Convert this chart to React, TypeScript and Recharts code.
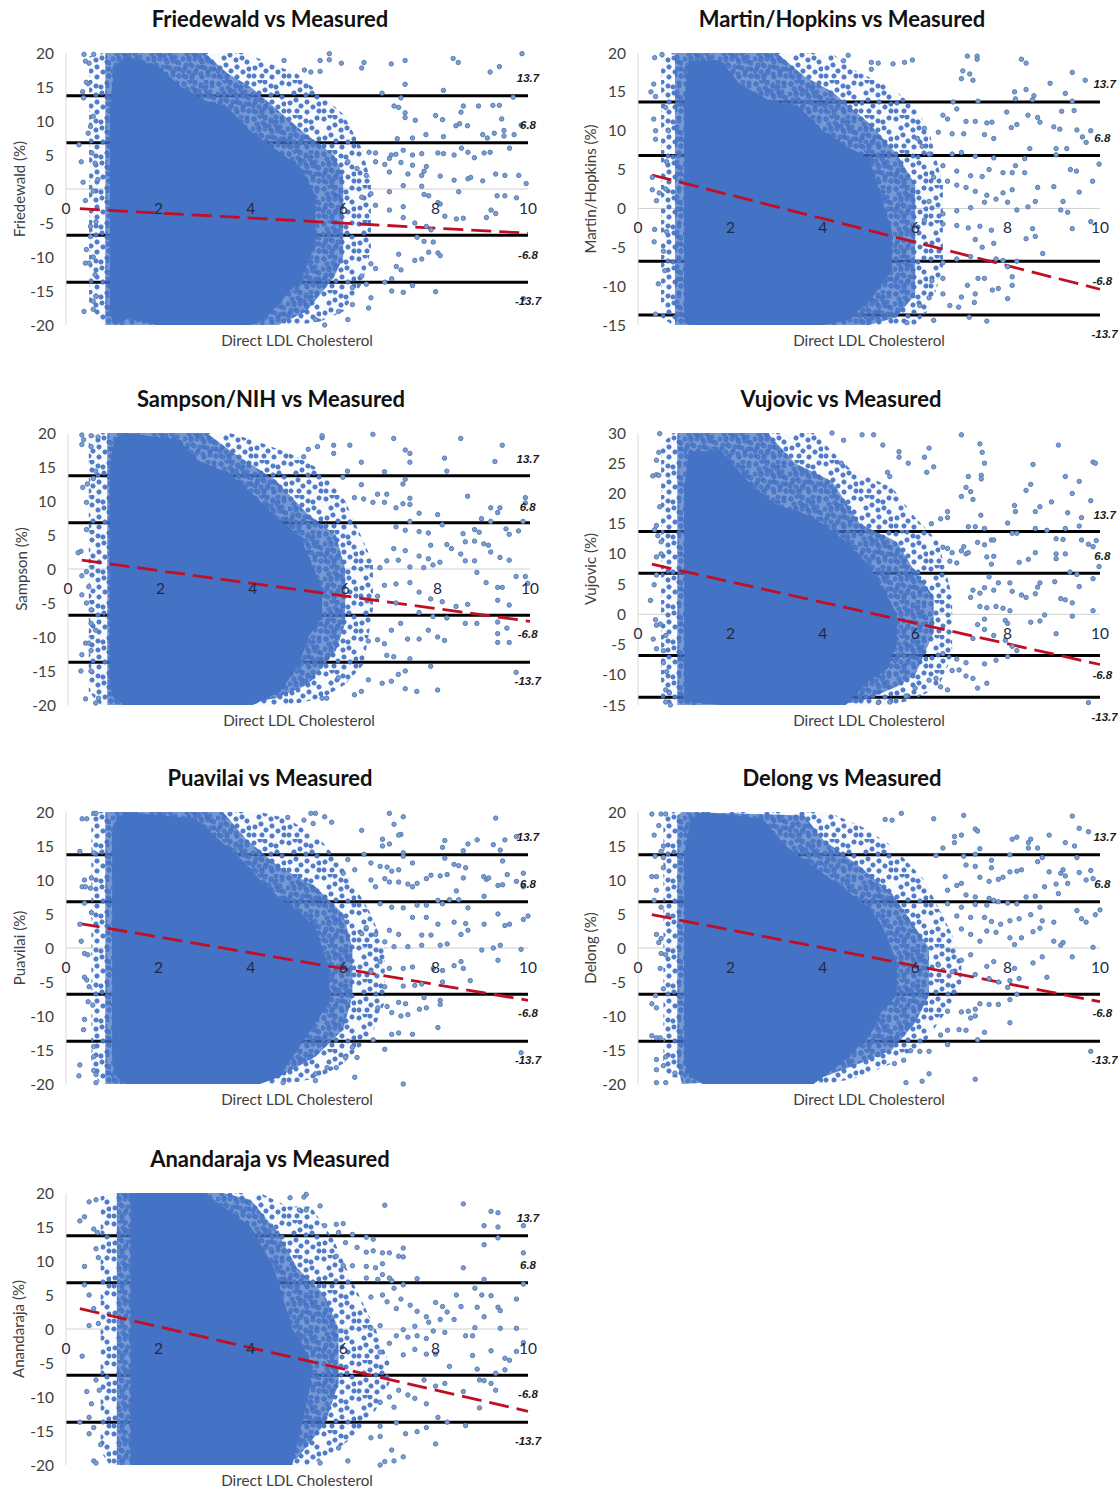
import React from "react";
import { ComposedChart, XAxis, YAxis, Area, Line, Scatter, ReferenceDot } from "recharts";

const xTicks = [0, 2, 4, 6, 8, 10];
const wideTicks = [-20, -15, -10, -5, 0, 5, 10, 15, 20];
const martinTicks = [-15, -10, -5, 0, 5, 10, 15, 20];
const vujovicTicks = [-15, -10, -5, 0, 5, 10, 15, 20, 25, 30];
const limits = [13.7, 6.8, -6.8, -13.7];

const friedewaldTrend = [[0.3, -2.9], [10, -6.5]];
const martinTrend = [[0.3, 4.3], [10, -10.4]];
const sampsonTrend = [[0.3, 1.3], [10, -7.7]];
const vujovicTrend = [[0.3, 8.3], [10, -8.3]];
const puavilaiTrend = [[0.3, 3.6], [10, -7.7]];
const delongTrend = [[0.3, 4.9], [10, -7.9]];
const anandarajaTrend = [[0.3, 3.0], [10, -12.1]];

// density envelopes: [x, low, high]
const friedewaldCore = [[0.95, -18, 12], [1.05, -20, 18], [1.3, -19, 19.5], [2, -20, 18], [2.5, -20, 15], [3, -20, 13], [3.5, -20, 12], [4, -20, 8.5], [4.3, -19, 7], [4.6, -17, 5.5], [5.1, -13, 3], [5.4, -8, -1]];
const friedewaldDense = [[0.85, -20, 20], [3, -20, 20], [3.5, -20, 17], [4, -20, 15], [4.6, -20, 11.5], [5.2, -18, 8], [5.8, -13, 5], [6, -10, 2]];
const friedewaldLoose = [[0.5, -17, 19.5], [0.8, -20, 20], [3.9, -20, 20], [4.4, -20, 18.5], [5, -20, 17], [5.5, -19.5, 14], [6, -18, 11], [6.4, -14, 6], [6.6, -9, 1]];
const martinCore = [[1, -14, 14], [1.1, -15, 19], [1.8, -15, 19], [2.2, -15, 16], [2.8, -15, 14], [3.5, -15, 13], [4, -15, 10], [4.5, -14.5, 8], [5, -12, 6.5], [5.5, -8, -3]];
const martinDense = [[0.8, -15, 20], [3, -15, 20], [3.6, -15, 17], [4.2, -15, 15], [5, -15, 11], [5.6, -14, 7], [6, -11, 3]];
const martinLoose = [[0.5, -14, 19.5], [0.75, -15, 20], [4.2, -15, 20], [4.6, -15, 18], [5.5, -15, 15.5], [6, -15, 13], [6.3, -13, 10], [6.6, -8, 3]];
const sampsonCore = [[0.9, -17, 15], [1, -19, 19], [1.2, -20, 20], [2.4, -20, 19], [2.8, -20, 16], [3.5, -20, 14], [4, -20, 11], [4.6, -18, 7], [5, -14, 5], [5.2, -10, 2], [5.5, -7, -3]];
const sampsonDense = [[0.85, -20, 20], [3, -20, 20], [3.6, -20, 17], [4.5, -19, 13], [5.2, -17, 8], [5.8, -12, 5], [6, -8, 0]];
const sampsonLoose = [[0.45, -18, 19.5], [0.7, -20, 20], [3.5, -20, 20], [4.2, -20, 18.5], [4.8, -20, 17], [5.5, -19, 14.5], [6, -17, 10], [6.4, -14, 4], [6.6, -6, 1]];
const vujovicCore = [[1, -13, 21], [1.1, -14.5, 27], [1.8, -15, 27], [2.5, -15, 21], [3, -15, 18], [3.5, -15, 17], [4, -15, 15], [4.5, -15, 12], [5, -11, 8], [5.4, -9, 3], [5.6, -5, 0]];
const vujovicDense = [[0.85, -15, 30], [2.8, -15, 30], [3.4, -15, 25], [4.2, -15, 22], [4.8, -14.5, 15], [5.6, -12, 12], [6, -10, 7], [6.4, -3, 3]];
const vujovicLoose = [[0.5, -14, 28], [0.75, -15, 30], [3.8, -15, 30], [4.6, -15, 24], [5.5, -15, 21], [6, -14, 16], [6.5, -12, 12], [6.8, -7, 3]];
const puavilaiCore = [[1, -17, 17], [1.1, -19, 19], [1.3, -20, 20], [2.8, -20, 19], [3.3, -20, 16], [3.8, -20, 13], [4.2, -20, 10], [4.6, -19, 7.5], [5.1, -14, 5], [5.4, -11, 3], [5.7, -8, -3]];
const puavilaiDense = [[0.85, -20, 20], [3.4, -20, 20], [3.9, -20, 16], [4.6, -19, 12], [5.4, -16, 9], [6, -12, 5], [6.2, -7, 0]];
const puavilaiLoose = [[0.55, -18, 20], [0.75, -20, 20], [4.2, -20, 20], [4.8, -20, 19], [5.5, -19, 16], [6, -17, 12], [6.6, -13, 5], [6.9, -8, 0]];
const delongCore = [[1, -17, 14], [1.15, -19, 19], [1.4, -20, 20], [2.7, -20, 19], [3.2, -20, 15], [3.8, -20, 12], [4.4, -17, 9], [5, -13, 6], [5.3, -9, 3], [5.6, -7, -2]];
const delongDense = [[0.85, -17, 19.5], [0.95, -20, 20], [3.6, -19, 19.5], [4, -19, 16], [4.8, -17, 12], [5.5, -15, 8], [6, -11, 3], [6.3, -7, 0]];
const delongLoose = [[0.55, -18, 19], [0.75, -19, 20], [4.1, -20, 20], [4.8, -19, 18], [5.5, -17, 15], [6.2, -14, 10], [6.8, -8, 2], [7, -6, -2]];
const anandarajaCore = [[1.4, -20, 20], [3, -20, 20], [3.4, -20, 18], [4, -20, 15], [4.5, -20, 9], [4.9, -20, 0], [5.1, -14, -2], [5.3, -8, -5]];
const anandarajaDense = [[1.1, -20, 20], [3.4, -20, 20], [4, -20, 19], [4.6, -20, 14], [5, -19, 9], [5.6, -14, 5], [5.9, -8, 0]];
const anandarajaLoose = [[0.75, -18, 19.5], [0.95, -20, 20], [4.2, -20, 20], [4.8, -20, 18], [5.3, -20, 18], [5.8, -18, 13], [6.2, -16, 7], [6.7, -12, 0], [7, -8, -5]];

// individually readable points
const friedewaldPoints = [[.39,19.8],[.42,18.8],[.5,18.5],[.6,19.8],[.36,14.3],[.38,13.4],[.28,6.5],[.33,4],[.37,1],[.42,-1.7],[.39,-18],[.59,-17.7],[.44,-8.9],[.42,-10.9],[.5,-10.9],[.48,15.5],[.44,15.7],[.48,8.2],[.53,9.2],[.59,10.7],[.56,5.3],[.63,3.8],[.69,1.4],[.59,-.3],[.53,-5.5],[.65,-4.8],[.53,-7],[.59,-10],[.63,-12.6],[.59,-16.5],[.65,-15.8],
[5.96,18.5],[6.4,17.8],[6.45,18.6],[7.04,18.4],[7.34,18.9],[7.34,15.4],[8.17,14.5],[6.84,14.1],[7.25,13.4],[8.38,19.2],[8.49,18.6],[9.18,17.2],[9.38,18],[9.87,19.9],[9.68,13.5],[5.7,19.9],[5.7,19],[5.5,18.9],[5.5,17.3],[5.3,17.2],[5.16,17.5],[4.72,18.9],[7.1,12.2],[7.2,12],[7.34,11.2],[7.34,10.5],[7.56,10.1],[8.6,12.2],[8.55,11.3],[8.93,12.2],[9.24,12.3],[9.38,12.3],[9.43,10.3],[8,10.8],[8.15,10.2],[8.44,9.3],[8.52,9.6],[8.69,9.3],[9.48,8.6],[9.7,8],[9.48,7.8],[9.27,8.2],[9.02,8],[9.12,7.5],[7.79,8],[7.5,7.5],[7.17,7.4],[8.17,7.7],[9.85,9.4],[9.6,6],[8.4,5],[8.56,6],[8.7,5.4],[8.84,4.6],[9.05,5.3],[9.18,5.4],[8.05,5.3],[8.17,5.2],[7.7,5.2],[7.5,5],[7.3,5.7],[7.14,5.1],[7.04,5],[6.7,5.3],[6.56,5.4],[6.7,4],[6.9,3.6],[7,4.5],[7.25,3.9],[7.5,3.5],[7.8,3.3],[7.75,2.6],[7.7,2],[7.4,2.2],[7,2.5],[6.5,2],[6.3,3],[6.1,4],[8.1,1.9],[8.4,1.3],[8.7,1.5],[8.76,1.7],[9.02,1.2],[9.3,2.2],[9.5,2],[9.8,2],[9.96,.8],[9.5,-1],[9.75,-1.3],[9.33,-1],[9.3,-3.6],[9.1,-4.2],[9.2,-3.1],[8.5,-.4],[8.6,-4.3],[8.45,-4.4],[8.2,-4],[8.05,-2],[8.1,-2.2],[7.85,-1],[7.75,-.8],[7.7,.4],[7.3,.5],[7,-.4],[6.6,-.7],[6.4,-1.2],[6.7,-2.4],[7,-3.1],[7.3,-2.6],[7.3,-4.2],[7.55,-5],[7.8,-5.5],[7.9,-6],[7.6,-7.1],[7.75,-7.7],[7.95,-7.8],[8.05,-9.4],[8.1,-9.8],[7.85,-9.3],[7.7,-10.3],[7.55,-10.5],[7.2,-9.6],[7.15,-11.4],[7.25,-11.9],[7.05,-13.2],[6.9,-13.7],[7.05,-15],[7.3,-15.2],[7.5,-14.2],[8,-15.1],[6.7,-11.7],[6.6,-11],[6.4,-12.8],[6.5,-14],[6.2,-14.5],[6.6,-16],[6.55,-17.5],[6.2,-17],[6.1,-19.2],[5.6,-20],[5.4,-19.2],[5.9,-18],[9.9,-16.1]];
const martinPoints = [[7.13,19.6],[7.34,19.6],[7.34,19.2],[8.3,19.2],[8.4,18.7],[7.03,17.7],[7.18,17.3],[7,16.7],[7.25,16.5],[9.4,17.5],[9.68,16.5],[8.92,16.1],[9.25,14.8],[8.4,15.3],[8.15,15],[8.17,14.1],[8.57,14.5],[8.54,14],[7.36,13.8],[6.82,13.7],[9.4,13.8],[5.94,19.1],[5.77,18.8],[5.52,18.6],[5.05,18.8],[5.2,18.7],[5.05,17.9],[4.55,19.7],[4.45,19],[.36,19.4],[.52,19.8],[.34,16],[.28,15],[.38,14.4],[.34,11.5],[.38,10],[.38,8.9],[.31,4],[.31,2.4],[.4,1],[.46,2],[.36,-2.7],[.35,-4.3],[.44,-9.7],[.38,-13.6],[.58,-8],[.55,-5.5],[.62,-3],[.6,2.5],[.62,6],[.66,10],[.6,13],
[7.98,12.4],[8.08,10.4],[8.2,10.8],[8.44,12],[8.65,11.7],[8.7,11.1],[9,10.5],[9.13,10.2],[9.17,12.5],[9.44,12.6],[9.5,10.1],[9.8,10],[9.62,9.2],[9.7,8.5],[8.48,7.7],[9.05,7.7],[9.28,7.7],[9.05,6.9],[9.98,5.7],[9.36,5],[9.49,4.8],[9.84,3.5],[9.55,2.1],[9,2.8],[9.2,.9],[9.15,-.2],[9.3,-.5],[9.4,-2.6],[9.8,-1.7],[8.54,-2.6],[8.4,-3.9],[8.6,-3.6],[8.76,-5.8],[8.6,.9],[8.65,2.7],[8.44,.2],[8.2,-.2],[8.37,4.6],[8.1,4.6],[7.9,4.6],[8.17,5.5],[8.37,6.4],[8.1,2.4],[7.9,2],[8,.8],[8,-11.6],[8.1,-9.9],[8.1,-8.8],[7.8,-10.3],[7.67,-10.5],[7.5,-9],[7.36,-9],[7.3,-11],[7.13,-9.9],[7.28,-12.1],[7,-11.4],[6.94,-12.7],[6.75,-12.5],[7.17,-14],[7.55,-14.5],[6.4,-14.4],[5.82,-14.7],[6.36,-9.3],[6.6,-9],[6.6,-11],[6.3,-11.5],[6.1,-12.5],[6.7,11.5],[6.9,12.8],[6.6,12],[7.1,11.2],[7.3,11.2],[7.55,11],[7.66,11.1],[7.5,9.5],[7.7,9],[7.05,9.6],[6.8,9.6],[6.5,9.8],[6.2,10.3],[6.05,9],[6.15,8],[6.3,7],[6.8,7],[7,7.2],[7.3,6.7],[7.7,6.5],[7.6,5],[7.45,4.1],[7.2,4.2],[6.9,4.8],[6.6,5.5],[6.4,4],[6.7,3.5],[6.9,3],[7.1,2.7],[7.3,2.2],[7.55,1.7],[7.75,1.2],[7.5,.8],[7.2,.1],[6.9,-.3],[6.6,-.7],[6.3,.9],[6.2,-1.5],[6.6,-2],[6.9,-2.2],[7.15,-2.5],[7.4,-2.3],[7.65,-2.8],[7.7,-4.5],[7.45,-5],[7.2,-6.2],[6.9,-6.5],[6.6,-7],[7.75,-6.5],[7.9,-6.7],[8,-7.5],[8.2,-6.8],[7.3,-4]];
const sampsonPoints = [[.3,19.7],[.34,19],[.3,18.3],[.5,18],[.5,19.6],[.65,19.4],[.6,14.4],[.55,13.3],[.32,12],[.42,12.5],[.4,9.8],[.4,5.8],[.28,2.6],[.22,2.4],[.4,-.4],[.3,-1],[.3,-3.8],[.45,-2.6],[.4,-5],[.5,-6],[.5,-8],[.6,-9],[.38,-10.9],[.45,-10.9],[.5,-12],[.3,-12.6],[.28,-15],[.5,-15],[.38,-19.1],[.6,-19.7],[.66,-19],
[5.5,19.3],[5.5,19.6],[6.6,19.8],[7.05,19.2],[7.3,17.5],[7.4,17],[7.4,15.7],[8.15,16.3],[8.2,14.4],[8.5,19.2],[9.24,15.8],[9.4,18.2],[5.4,18],[5.2,17.6],[5.1,16.5],[5.75,18.2],[6.1,18.2],[5.75,17],[6.35,15.7],[6.85,14.3],[7.3,13.2],[7.25,12.5],[6.05,14.4],[5.95,13.5],[6.35,12.4],[6.7,11],[6.9,11],[6.2,10.5],[6.4,10.3],[6.6,9.8],[6.85,9.8],[7.1,9],[7.25,9.6],[7.4,9.5],[7.4,10.4],[7.6,8.2],[8,8],[8.65,10.7],[9.9,10.5],[9.9,9.7],[9.15,9],[9.35,9],[9.3,8.3],[8.95,7.4],[9.15,7],[9.85,7],[7.4,7],[7.1,6.2],[7.3,5.7],[7.6,5.5],[7.8,5.3],[8.1,6.5],[8.55,5.2],[8.8,5.8],[8.9,5.4],[9.48,5.9],[9.55,5.1],[9.75,5.6],[8.6,4],[8.8,4.1],[9,3.7],[9.1,3.5],[9.15,2.5],[9.35,1.7],[9.55,1.3],[8.5,2.2],[8.6,1.2],[8.8,1.2],[8.85,-.5],[8.05,1],[7.9,.6],[7.7,.2],[7.4,.3],[7.15,1.3],[6.9,1.2],[6.75,.2],[7.8,1.5],[7.6,1.9],[7.3,2.7],[7.05,3],[8.2,3.6],[8.3,3],[7.85,3.5],[9.7,-1.1],[9.9,-1.1],[9.95,-2.1],[9.3,-2.7],[9.4,-2.7],[9.05,-2],[9.3,-4.6],[9.55,-5.3],[8.65,-5.2],[8.4,-5.5],[8.1,-4.8],[7.85,-4.4],[7.6,-3.4],[7.4,-2],[7.1,-2.2],[6.85,-2.4],[6.7,-4],[7.1,-5],[7.6,-6.4],[7.9,-7],[8.2,-7.2],[8.6,-8],[8.85,-8],[9.3,-7.8],[9.5,-8.7],[9.3,-9.5],[9.3,-10.8],[9.55,-10.8],[8.15,-10.5],[8,-10],[7.8,-9],[7.6,-10.3],[7.35,-10.3],[7.2,-8],[7,-9],[6.85,-11],[6.7,-10.4],[6.5,-10.6],[6.9,-12.7],[7.05,-12.9],[7.4,-13.2],[7.85,-14.3],[7.3,-15],[7.15,-15.5],[7,-16.5],[6.8,-16.8],[6.5,-16.3],[7.3,-17.6],[7.55,-18],[8,-17.8],[6.35,-18],[6.2,-18.5],[5.85,-16],[5.6,-19],[5.5,-19],[9.7,-15.2]];
const vujovicPoints = [[.47,29.9],[.4,25.5],[.45,26.8],[.32,22.9],[.4,23.1],[.45,23],[.47,17.8],[.36,14],[.4,14.7],[.43,13],[.5,12],[.5,10],[.4,9.5],[.4,6.5],[.35,4.9],[.27,2.3],[.38,-.9],[.4,-1.8],[.48,-1.6],[.33,-4.1],[.4,-5.7],[.6,-3.5],[.55,-6],[.55,-8],[.62,-9.5],[.6,-12.5],[.6,-14.5],[.7,-15],[.68,-13],
[7,29.7],[7.4,28.2],[7.45,26.8],[7.5,25],[6.3,27.5],[6.2,26],[6.4,24.4],[6.25,23.5],[5.65,26.9],[5.65,26],[5.85,25],[5.4,23.5],[5.45,22.8],[5.3,28],[5.1,29.7],[4.85,29.7],[4.2,30],[4.45,28.8],[4.4,25],[7.15,22.8],[7.43,23],[7.43,22.4],[7.1,21],[7.2,20.3],[7,19.5],[7.25,19],[6.7,17],[6.7,16],[6.55,15.8],[6.35,15],[7.42,16.4],[9.1,28],[9.25,22.8],[9.55,22],[9.4,20],[9.85,25.2],[9.9,25],[8.15,18],[8.17,17],[8.4,20.5],[8.5,21.5],[8.55,24.8],[8.6,17],[8.7,17.8],[8.95,18.6],[9.6,16],[9.8,18.8],[9.3,16.8],[9.55,14.6],[8.0,15.1],[7.3,14.5],[7.15,14.5],[7.5,14.2],[8.1,13.4],[8.2,13.4],[8.6,14.2],[8.85,13.9],[9.05,12.5],[9.2,12.4],[9.25,14.2],[9.6,12.3],[9.75,11.6],[9.85,11.2],[9.92,12.2],[8.6,10.2],[8.45,9.1],[8.25,8.6],[7.65,12.3],[7.7,12.3],[7.5,11.5],[7.35,11.9],[7.05,11.2],[6.7,10.9],[6.6,11.1],[6.8,10.2],[7,10.5],[7.1,10],[7.15,10.2],[6.75,8.8],[6.9,8.5],[7.55,9.5],[7.65,8.3],[7.7,9.6],[9.05,10],[9.05,9.2],[9.25,10],[9.98,7.9],[9.35,7],[9.5,6.6],[9.85,5.9],[9.02,5.4],[9.55,4.6],[8.7,5.2],[8.65,4.5],[8.6,3.4],[8.3,3.2],[8.1,3.8],[8.05,5.2],[7.8,5.2],[7.6,6.2],[7.7,4],[7.5,4.4],[7.25,4],[7.4,3.5],[7.2,2.8],[7.4,1.3],[7.55,1.1],[7.75,1.3],[7.9,1],[8.05,.6],[8.4,2.8],[9.25,2.4],[9.15,2.6],[9.4,1.9],[9.85,.6],[9.4,-.3],[8.8,-.1],[8.7,-1.1],[8.5,-1.3],[9.05,-3.2],[8,-1.5],[7.95,-1],[7.5,-.8],[7.35,-1.7],[7.5,-2.5],[7.25,-4],[7.7,-3.5],[7.95,-4.3],[8.1,-5.3],[8.2,-6],[8,-7],[7.75,-7.6],[7.5,-8.2],[7.1,-8],[6.9,-7.4],[6.6,-6.5],[6.8,-9.3],[6.95,-9.2],[7.1,-10.2],[7.25,-10.6],[7.35,-12.2],[7.55,-11.4],[6.7,-12.5],[6.55,-12],[6.45,-10.6],[6.3,-10.9],[6,-12.2],[5.8,-13.5],[5.45,-14.5],[5.2,-14.6],[9.75,-14.6]];
const puavilaiPoints = [[.35,19],[.45,19],[.6,19.8],[.65,19.8],[.3,14.2],[.6,14],[.4,10],[.35,9],[.42,9],[.55,10.3],[.53,8.8],[.4,6.6],[.55,5.2],[.3,3.5],[.33,1],[.4,-.8],[.47,-1],[.4,-4.3],[.45,-4.7],[.5,-5.7],[.48,-7.9],[.58,-8.4],[.4,-10.5],[.38,-12],[.6,-14.5],[.6,-16],[.3,-17.2],[.28,-18.8],[.6,-18],[.65,-18.6],[.65,-19.8],
[7,19.8],[7.3,19.3],[9.3,19.1],[7.1,18.2],[7.25,16.7],[7.2,16.6],[6.4,17.3],[5.6,19.3],[5.75,18.5],[5.4,19.8],[5.3,19.8],[5.35,18.3],[5.15,18.8],[4.8,19.2],[6.85,16],[6.85,15],[7,15.3],[7.3,14],[7.3,13.5],[8.15,14.8],[8.2,15.8],[8.7,15.3],[8.6,14.3],[8.9,15.9],[9.25,15.2],[9.4,14.4],[9.5,15.9],[9.75,16.4],[9.45,12.8],[8.2,13.2],[8.4,12.3],[8.5,12.1],[8.65,11.8],[7.5,12.5],[7.2,11.5],[6.8,12],[6.95,11.9],[7.05,11.3],[6.6,12.5],[6.45,13.8],[6.1,13],[6.25,11.5],[6,11],[6.6,10],[6.9,10.2],[6.7,9],[7,9.7],[7.2,9.7],[7.4,9.4],[7.5,9],[7.6,9.5],[7.8,10.2],[7.9,10.7],[8.1,10.6],[8.25,10.8],[8.6,10.3],[8.45,8.4],[9.04,10.5],[9.1,10.1],[9.15,10.3],[9.35,9.2],[9.55,10.8],[9.9,11],[9.75,9.8],[9.45,9.3],[9.9,9],[9.05,7.6],[8.05,7],[8.5,7.1],[8.3,7.1],[8.15,6.5],[7.8,6.3],[7.6,6.3],[7.3,5.9],[7.05,6],[6.8,6.5],[8.7,5.9],[7.5,4.5],[7.8,4.5],[8.05,3.5],[8.4,3.8],[8.65,3.6],[9.05,3.5],[9.35,5],[9.5,3.3],[9.6,3.5],[9.9,4.2],[10,4.7],[8.55,2],[8.7,2.6],[7.9,1.9],[7.7,1.9],[7.2,2],[7,2.6],[6.7,2],[6.5,3],[6.4,2.1],[6.9,.9],[7.1,.2],[7.4,.2],[7.7,.4],[8.1,.4],[8.25,.6],[9.25,0],[9.4,.4],[9,-.3],[9.85,-.2],[9.35,-1.8],[8.55,-2],[8.6,-3],[8.4,-2.6],[8.15,-3.3],[7.95,-3],[7.5,-2.8],[7.3,-3],[7,-3],[6.8,-2],[6.6,-3.5],[8.75,-4.8],[8.15,-5],[7.7,-5.3],[7.55,-5.5],[7.3,-5.6],[6.9,-5.7],[8.1,-7.7],[8.1,-8.3],[7.75,-7.3],[7.4,-9.8],[7.25,-10],[7.05,-9.5],[6.75,-8.8],[6.95,-8.6],[7.65,-9],[7.8,-8.8],[7.2,-8],[7.35,-8.2],[8.05,-11.7],[7.5,-12.7],[7.2,-12.5],[7.05,-12.7],[6.9,-14.9],[6.65,-13.5],[6.2,-14.6],[6.3,-16.1],[6.05,-16.1],[5.85,-17.6],[5.65,-17.6],[6.25,-19],[7.3,-20],[5.4,-18.5],[5.4,-19.5],[4.7,-19.8],[9.85,-15.4]];
const delongPoints = [[.3,19.7],[.5,19.7],[.6,19.7],[.45,18],[.35,16.6],[.55,15],[.5,14.2],[.37,13.5],[.55,13.3],[.3,10.5],[.4,10.5],[.55,11.8],[.4,8.5],[.35,7],[.5,6],[.4,2],[.45,.8],[.5,-.8],[.6,-1],[.5,1.4],[.48,-3],[.3,-8.2],[.4,-8.8],[.38,-7],[.55,-6],[.3,-12.9],[.4,-13.2],[.48,-13.2],[.4,-16.4],[.4,-17.9],[.55,-17.3],[.6,-16],[.4,-19.8],[.6,-19.8],[.8,-18.4],
[7.05,19.5],[9.4,19.4],[6.4,19],[5.7,19.8],[5.5,18.8],[5.35,18.9],[7.3,17.5],[7.35,17.2],[6.85,16.4],[6.85,15.5],[7,16.6],[7.4,14.6],[7.3,13.8],[9.55,17.6],[9.75,17.1],[9.45,15],[9.25,15.5],[8.9,16.6],[8.1,16],[8.2,16.3],[8.5,16],[8.45,14.7],[8.65,14.7],[8.45,15.5],[8.75,13.3],[9.5,13.3],[8.05,13.7],[7.65,12.9],[7.1,12.2],[7.05,13.5],[6.6,14.7],[6.45,13.6],[7.3,12],[7.65,11.8],[8.05,11.2],[8.2,11.3],[8.3,11.5],[8.65,12.7],[8.9,11.2],[9.15,11],[9.2,11.5],[9.25,10.6],[9.3,9.5],[9.55,11.1],[9.8,11.4],[9.7,10],[9.85,10.2],[9.05,9.4],[9.1,8],[8.8,9],[7.4,10.4],[7.6,9.8],[7.8,10.1],[7.9,10.4],[6.65,10.5],[6.9,9.2],[7,9.5],[6.7,8.5],[7.1,7.8],[7.3,7.5],[7.6,7.3],[7.7,7],[7.8,6.8],[8,6.6],[8.2,6.5],[8.4,7.5],[8.6,7.6],[8.7,6],[6.7,6.5],[7,6],[7.3,6.4],[7.55,6.3],[6.9,4.7],[7.2,4.5],[7.5,4.5],[7.65,3.9],[7.85,3.5],[8.05,4],[8.25,4.3],[8.5,4.9],[8.75,4],[9,3.8],[9.5,5.5],[9.6,4.3],[9.7,3.8],[9.9,4.9],[10,5.6],[7,2.8],[7.2,2],[7.4,1],[7.55,2.5],[7.75,2.3],[8.05,1.5],[8.15,.5],[8.3,1.5],[8.55,2.4],[8.7,2.9],[9,1],[9.2,.8],[9.15,.4],[9.85,.1],[9.4,-1.3],[8.55,-2.2],[8.75,-1.3],[8.85,-4.3],[8.15,-3],[8.25,-4.5],[8.05,-4.8],[7.7,-2],[7.55,-2.7],[7.2,-1],[7,-1.8],[6.8,-3.5],[6.5,-2.5],[7.3,-3.9],[7.6,-4.5],[7.8,-5],[8,-5.8],[8.2,-6.8],[8.05,-7.6],[7.8,-8.3],[7.6,-8.3],[7.4,-8.2],[7.3,-9],[7.15,-9.3],[7,-9.4],[6.7,-9.3],[7.3,-10],[7.2,-10.3],[8.05,-11],[7.5,-12.4],[7.1,-12.1],[6.95,-12],[6.7,-12.1],[6.55,-12.8],[7.35,-13.5],[6.7,-14.2],[6.3,-15.2],[6.1,-15.2],[5.9,-15.1],[5.75,-16.5],[5.55,-17],[6.3,-18.5],[5.8,-19.8],[6.15,-19.6],[7.3,-19.3],[9.8,-15.2]];
const anandarajaPoints = [[.5,18.7],[.65,19],[.3,15.9],[.4,16.5],[.6,14.7],[.68,14.2],[.4,9.2],[.65,11.8],[.7,10.5],[.4,6.5],[.5,5],[.6,3],[.5,.5],[.7,.8],[.35,-4],[.45,-9.2],[.55,-11],[.5,-13],[.3,-13.7],[.5,-15.4],[.6,-14.5],[.6,-19.4],[.65,-19.7],[.75,-17],[.72,-9],[.65,-7.5],
[6.9,18.2],[8.6,18.4],[9.2,17.3],[9.35,17.1],[9.05,15.2],[9.35,15],[9.9,15.2],[9.35,13.4],[9.05,12.4],[9.9,11.2],[5.2,19.8],[5.15,19.4],[4.85,19.3],[5.2,17.5],[5.05,17.5],[5.5,18.1],[5.6,15.2],[5.85,15.4],[6,15.5],[5.9,14.2],[6.2,13.9],[6.5,13.5],[6.65,13.2],[7.3,11.9],[7.2,10.7],[7.3,10.6],[6.85,11.2],[7,11.2],[6.65,11.5],[6.5,11.3],[6.3,12],[6.05,12.7],[5.85,10.7],[6,9.3],[6.2,9.3],[6.5,9.2],[6.7,9],[6.85,9.6],[6.85,8],[7.05,7.1],[6.75,7.3],[6.5,7.5],[7,7.5],[7.6,7.4],[7.3,6.5],[9.05,7.3],[9.9,6.6],[8.6,9],[8.85,6],[7.1,6],[6.6,4.7],[6.85,5],[6.95,4],[7.15,3],[7.25,4.4],[7.45,3.5],[7.6,2.6],[7.8,1.8],[8,3.9],[8.15,3.3],[8.25,2.5],[8.45,5],[8.55,3.3],[8.9,3.2],[9,5],[9.2,4.9],[9.35,3.2],[9.4,2.7],[9.05,1.8],[9.75,4.4],[8.4,1.4],[8.1,1.4],[7.85,1],[7.55,.4],[7.3,-.1],[7.15,-1],[6.8,.5],[6.6,.1],[9.4,.1],[9.75,.1],[8.65,-1],[8.8,-1],[8.85,.2],[8.2,-.5],[7.95,-.3],[7.8,-1.4],[7.6,-1],[7.4,-1.2],[7,-2.1],[6.8,-3.4],[7.3,-3.8],[7.55,-3],[7.8,-3.7],[8,-3.7],[8.3,-5.5],[9.2,-3.2],[9.75,-3.3],[9.9,-2],[9.5,-4.3],[9.6,-4.6],[9.3,-6.5],[9.5,-6],[8.8,-3.9],[8.9,-5.9],[8.95,-7.5],[9.2,-8],[9.3,-9],[9.05,-7.6],[8.6,-9.2],[8.2,-8],[8,-8.4],[7.75,-7.5],[7.4,-9.7],[7.2,-9],[7,-10],[6.8,-10.8],[7.1,-11.5],[7.55,-10.2],[7.8,-11],[8.05,-13],[8.25,-13.7],[8.95,-11.6],[8.65,-14.2],[7.8,-14.5],[7.6,-15.1],[7.35,-15.4],[7.15,-13.8],[6.8,-14.3],[6.6,-16],[6.8,-15.8],[7.05,-17.8],[7.3,-18.8],[8,-16.9],[6.9,-19.5],[7.1,-19.4],[6.8,-20],[6.1,-19.4],[5.9,-17.5],[5.5,-19.7]];

const PANELS = [
  { title: "Friedewald vs Measured", yName: "Friedewald (%)", domain: [-20, 20], ticks: wideTicks, x0: 66, y0: 53, cx: 270, ty: 19, yx: 19, xlab: [[10, 16.3], [10, 9.4], [10, -9.7], [10, -16.5]], trend: friedewaldTrend, core: friedewaldCore, dense: friedewaldDense, loose: friedewaldLoose, points: friedewaldPoints },
  { title: "Martin/Hopkins vs Measured", yName: "Martin/Hopkins (%)", domain: [-15, 20], ticks: martinTicks, x0: 638, y0: 53, cx: 842, ty: 19, yx: 590, xlab: [[10.1, 16], [10.05, 9.1], [10.05, -9.3], [10.1, -16.1]], trend: martinTrend, core: martinCore, dense: martinDense, loose: martinLoose, points: martinPoints },
  { title: "Sampson/NIH vs Measured", yName: "Sampson (%)", domain: [-20, 20], ticks: wideTicks, x0: 68, y0: 433, cx: 271, ty: 399, yx: 21, xlab: [[9.95, 16.2], [9.95, 9.2], [9.95, -9.6], [9.95, -16.5]], trend: sampsonTrend, core: sampsonCore, dense: sampsonDense, loose: sampsonLoose, points: sampsonPoints },
  { title: "Vujovic vs Measured", yName: "Vujovic (%)", domain: [-15, 30], ticks: vujovicTicks, x0: 638, y0: 433, cx: 841, ty: 399, yx: 590, xlab: [[10.1, 16.5], [10.05, 9.6], [10.05, -10.1], [10.1, -16.9]], trend: vujovicTrend, core: vujovicCore, dense: vujovicDense, loose: vujovicLoose, points: vujovicPoints },
  { title: "Puavilai vs Measured", yName: "Puavilai (%)", domain: [-20, 20], ticks: wideTicks, x0: 66, y0: 812, cx: 270, ty: 778, yx: 19, xlab: [[10, 16.3], [10, 9.4], [10, -9.6], [10, -16.5]], trend: puavilaiTrend, core: puavilaiCore, dense: puavilaiDense, loose: puavilaiLoose, points: puavilaiPoints },
  { title: "Delong vs Measured", yName: "Delong (%)", domain: [-20, 20], ticks: wideTicks, x0: 638, y0: 812, cx: 842, ty: 778, yx: 590, xlab: [[10.1, 16.3], [10.05, 9.4], [10.05, -9.6], [10.1, -16.5]], trend: delongTrend, core: delongCore, dense: delongDense, loose: delongLoose, points: delongPoints },
  { title: "Anandaraja vs Measured", yName: "Anandaraja (%)", domain: [-20, 20], ticks: wideTicks, x0: 66, y0: 1193, cx: 270, ty: 1159, yx: 18, xlab: [[10, 16.3], [10, 9.4], [10, -9.6], [10, -16.5]], trend: anandarajaTrend, core: anandarajaCore, dense: anandarajaDense, loose: anandarajaLoose, points: anandarajaPoints },
];

const FONT = "Lato, 'Open Sans', sans-serif";
const BLUE = "#4472C4";
const PLOT_W = 462;
const PLOT_H = 272;
const LEFT_PAD = 60;
const TOP_PAD = 8;
const BOTTOM_PAD = 30;
const RIGHT_PAD = 40;

const looseTile = [[3,4],[9,1],[14,2],[20,6],[25,7],[31,3],[8,13],[14,10],[20,15],[26,13],[31,17],[4,23],[10,20],[15,26],[21,22],[27,27],[33,24],[3,31],[11,31],[21,32],[33,31]];
const denseTile = [[3,4],[9,1],[14,3],[20,5],[25,2],[31,6],[6,9],[12,8],[18,11],[24,9],[29,12],[2,14],[8,15],[14,14],[21,17],[27,16],[33,18],[5,20],[11,21],[17,22],[24,23],[30,24],[2,26],[8,27],[14,28],[20,29],[27,30],[33,31],[5,32],[11,33]];

function Tile({ id, dots, wash }: any) {
  return (
    <pattern id={id} width={35} height={35} patternUnits="userSpaceOnUse">
      {wash ? <rect width={35} height={35} fill={BLUE} opacity={wash} /> : null}
      {dots.map((d: number[], i: number) => (
        <circle key={i} cx={d[0]} cy={d[1]} r={2.1} fill="#4F7BC8" stroke="#4472C4" strokeWidth={1} />
      ))}
    </pattern>
  );
}

function bandData(rows: number[][]) {
  return rows.map((r) => ({ x: r[0], band: [r[1], r[2]] }));
}

function flatLine(v: number) {
  return [{ x: 0, y: v }, { x: 10, y: v }];
}

function Panel({ p, idx }: any) {
  const [lo, hi] = p.domain;
  const scatter = p.points.map((q: number[]) => ({ x: q[0], y: q[1] }));
  const trend = p.trend.map((q: number[]) => ({ x: q[0], y: q[1] }));
  const zeroOffset = (PLOT_H * (0 - lo)) / (hi - lo);
  const xTick = (t: any) => (
    <text x={t.x} y={t.y - zeroOffset + 17} textAnchor="middle" fontFamily={FONT} fontSize={15.5} fill="#1F2A44">
      {t.payload.value}
    </text>
  );
  return (
    <div style={{ position: "absolute", left: p.x0 - LEFT_PAD, top: p.y0 - TOP_PAD }}>
      <ComposedChart
        width={PLOT_W + LEFT_PAD + RIGHT_PAD}
        height={PLOT_H + TOP_PAD + BOTTOM_PAD}
        margin={{ left: LEFT_PAD - 40, top: TOP_PAD, right: RIGHT_PAD, bottom: BOTTOM_PAD - 24 }}
      >
        <defs>
          <Tile id={`loose${idx}`} dots={looseTile} wash={0.04} />
          <Tile id={`dense${idx}`} dots={denseTile} wash={0.72} />
        </defs>
        <XAxis type="number" dataKey="x" domain={[0, 10]} ticks={xTicks} height={24} axisLine={false} tickLine={false} tick={xTick} interval={0}
          label={{ value: "Direct LDL Cholesterol", position: "insideBottom", offset: 3, fontFamily: FONT, fontSize: 15.2, fill: "#404040" }} />
        <YAxis type="number" dataKey="y" domain={p.domain} ticks={p.ticks} width={40} interval={0} axisLine={{ stroke: "#D9D9D9" }} tickLine={false}
          tick={{ fontFamily: FONT, fontSize: 15.5, fill: "#404040" }} tickMargin={6} />
        <Area data={flatLine(0)} dataKey="y" type="linear" fill="none" stroke="#D0D0D0" strokeWidth={1} dot={false} activeDot={false} isAnimationActive={false} />
        {limits.map((v) => (
          <Area key={v} data={flatLine(v)} dataKey="y" type="linear" fill="none" stroke="#000000" strokeWidth={3} dot={false} activeDot={false} isAnimationActive={false} />
        ))}
        <Area data={bandData(p.loose)} dataKey="band" type="linear" stroke="none" fill={`url(#loose${idx})`} fillOpacity={1} isAnimationActive={false} dot={false} activeDot={false} />
        <Area data={bandData(p.dense)} dataKey="band" type="linear" stroke="none" fill={`url(#dense${idx})`} fillOpacity={1} isAnimationActive={false} dot={false} activeDot={false} />
        <Area data={bandData(p.core)} dataKey="band" type="linear" stroke="none" fill={BLUE} fillOpacity={1} isAnimationActive={false} dot={false} activeDot={false} />
        <Scatter data={scatter} dataKey="y" isAnimationActive={false} fill="#6F95CF" stroke="#5478AE" strokeWidth={1}
          shape={(s: any) => <circle cx={s.cx} cy={s.cy} r={2.2} fill="#7C9FD4" stroke="#557BB3" strokeWidth={1} />} />
        <Line data={trend} dataKey="y" type="linear" stroke="#C00F25" strokeWidth={2.8} strokeDasharray="20 8" dot={false} activeDot={false} isAnimationActive={false} />
        {limits.map((v, i) => (
          <ReferenceDot key={`l${v}`} x={p.xlab[i][0]} y={p.xlab[i][1]} r={0} ifOverflow="visible" fill="none" stroke="none"
            label={{ value: String(v), position: "center", fontFamily: "'Liberation Sans', Arial, sans-serif", fontSize: 11.5, fontWeight: 700, fontStyle: "italic", fill: "#1a1a1a" }} />
        ))}
      </ComposedChart>
    </div>
  );
}

export default function App() {
  return (
    <div style={{ position: "absolute", left: 0, top: 0, width: 1118, height: 1488, background: "#fff", overflow: "hidden" }}>
      {PANELS.map((p, i) => (
        <React.Fragment key={p.title}>
          <Panel p={p} idx={i} />
          <div style={{ position: "absolute", left: p.cx - 200, width: 400, top: p.ty - 14, height: 28, lineHeight: "28px", textAlign: "center", fontFamily: FONT, fontWeight: 700, fontSize: 22, color: "#111" }}>
            {p.title}
          </div>
          <div style={{ position: "absolute", left: p.yx - 100, width: 200, top: p.y0 + PLOT_H / 2 - 10, height: 20, lineHeight: "20px", textAlign: "center", transform: "rotate(-90deg)", fontFamily: FONT, fontSize: 15, color: "#404040" }}>
            {p.yName}
          </div>
        </React.Fragment>
      ))}
    </div>
  );
}
